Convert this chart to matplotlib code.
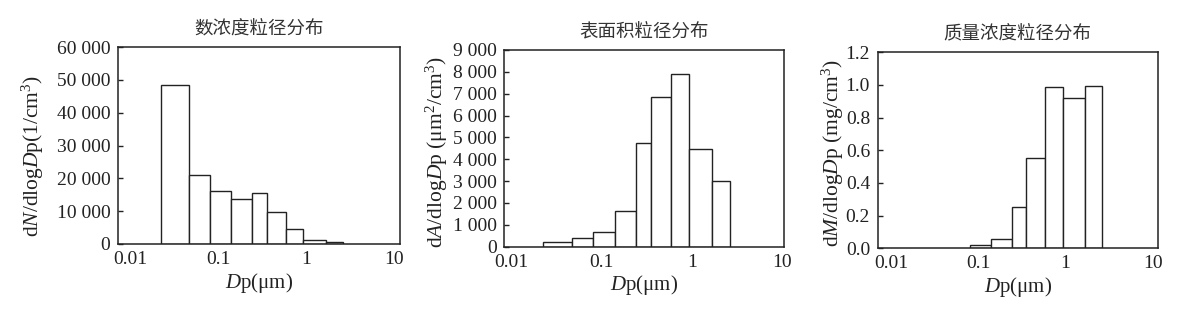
import matplotlib
matplotlib.use("Agg")
import matplotlib.pyplot as plt
import numpy as np

# ---- data ----
bin_edges = [0.0221, 0.0465, 0.080, 0.1406, 0.240, 0.355, 0.583, 0.925, 1.66, 2.63]
number_conc = [48500, 21000, 16000, 13700, 15400, 9600, 4600, 1200, 700]
surface_area = [200, 380, 650, 1620, 4750, 6850, 7880, 4450, 3000]
mass_conc = [0.018, 0.058, 0.255, 0.555, 0.985, 0.92, 0.995]  # starts at 3rd bin

titles = ["数浓度粒径分布", "表面积粒径分布", "质量浓度粒径分布"]
ylabels = [r"d$N$/dlog$D$p(1/cm$^3$)",
           r"d$A$/dlog$D$p (μm$^2$/cm$^3$)",
           r"d$M$/dlog$D$p (mg/cm$^3$)"]
xlabel = r"$D$p(μm)"
xticks = [0.01, 0.1, 1, 10]
xticklabels = ["0.01", "0.1", "1", "10"]
yticks = [[0, 10000, 20000, 30000, 40000, 50000, 60000],
          [0, 1000, 2000, 3000, 4000, 5000, 6000, 7000, 8000, 9000],
          [0.0, 0.2, 0.4, 0.6, 0.8, 1.0, 1.2]]
ytick_labels = [["0", "10 000", "20 000", "30 000", "40 000", "50 000", "60 000"],
                ["0", "1 000", "2 000", "3 000", "4 000", "5 000", "6 000", "7 000", "8 000", "9 000"],
                ["0.0", "0.2", "0.4", "0.6", "0.8", "1.0", "1.2"]]

plt.rcParams['font.family'] = ['Liberation Serif', 'Noto Sans CJK SC']
plt.rcParams['mathtext.fontset'] = 'custom'
plt.rcParams['mathtext.rm'] = 'Liberation Serif'
plt.rcParams['mathtext.it'] = 'Liberation Serif:italic'

W, H = 1181, 311
fig = plt.figure(figsize=(W / 100, H / 100), dpi=100)

# axes boxes in pixels: left, top, right, bottom
boxes = [(118, 47, 400, 244), (504.3, 50, 784, 246.7), (877.7, 52.3, 1157.7, 248.3)]
xlims = [(10 ** -2.140, 10 ** 1.064), (10 ** -2.081, 10 ** 1.023), (10 ** -2.157, 10 ** 1.058)]
ylims = [(0, 60000), (0, 9000), (0, 1.2)]
datasets = [(bin_edges, number_conc), (bin_edges, surface_area), (bin_edges[2:], mass_conc)]
ylabel_x = [33, 436.5, 833]
ylabel_ycenter = [156, 151.5, 153]

for i in range(3):
    l, t, r, b = boxes[i]
    ax = fig.add_axes([l / W, (H - b) / H, (r - l) / W, (b - t) / H])
    edges, vals = datasets[i]
    lefts = np.array(edges[:-1])
    rights = np.array(edges[1:])
    ax.bar(lefts, vals, width=rights - lefts, align='edge', color='white',
           edgecolor='#222222', linewidth=1.0)
    ax.set_xscale('log')
    ax.set_xlim(*xlims[i])
    ax.set_ylim(*ylims[i])
    ax.set_xticks(xticks)
    ax.set_xticklabels(xticklabels)
    ax.xaxis.set_minor_locator(matplotlib.ticker.NullLocator())
    ax.set_yticks(yticks[i])
    ax.set_yticklabels(ytick_labels[i])
    ax.tick_params(axis='x', length=0, labelsize=14, pad=5, colors='#222222')
    ax.tick_params(axis='y', direction='in', length=3.5, width=1.0, labelsize=14,
                   pad=5.5, colors='#222222')
    for s in ax.spines.values():
        s.set_linewidth(1.1)
        s.set_color('#222222')
    ax.set_title(titles[i], family=['Noto Sans CJK SC'], fontsize=13.3, pad=10,
                 color='#333333')
    ax.set_xlabel(xlabel, fontsize=15, labelpad=2, color='#222222')
    ax.set_ylabel(ylabels[i], fontsize=15.5, color='#222222', va='center')
    ax.yaxis.set_label_coords((ylabel_x[i] - l) / (r - l),
                              (b - ylabel_ycenter[i]) / (b - t))

fig.savefig("out.png", dpi=100)
